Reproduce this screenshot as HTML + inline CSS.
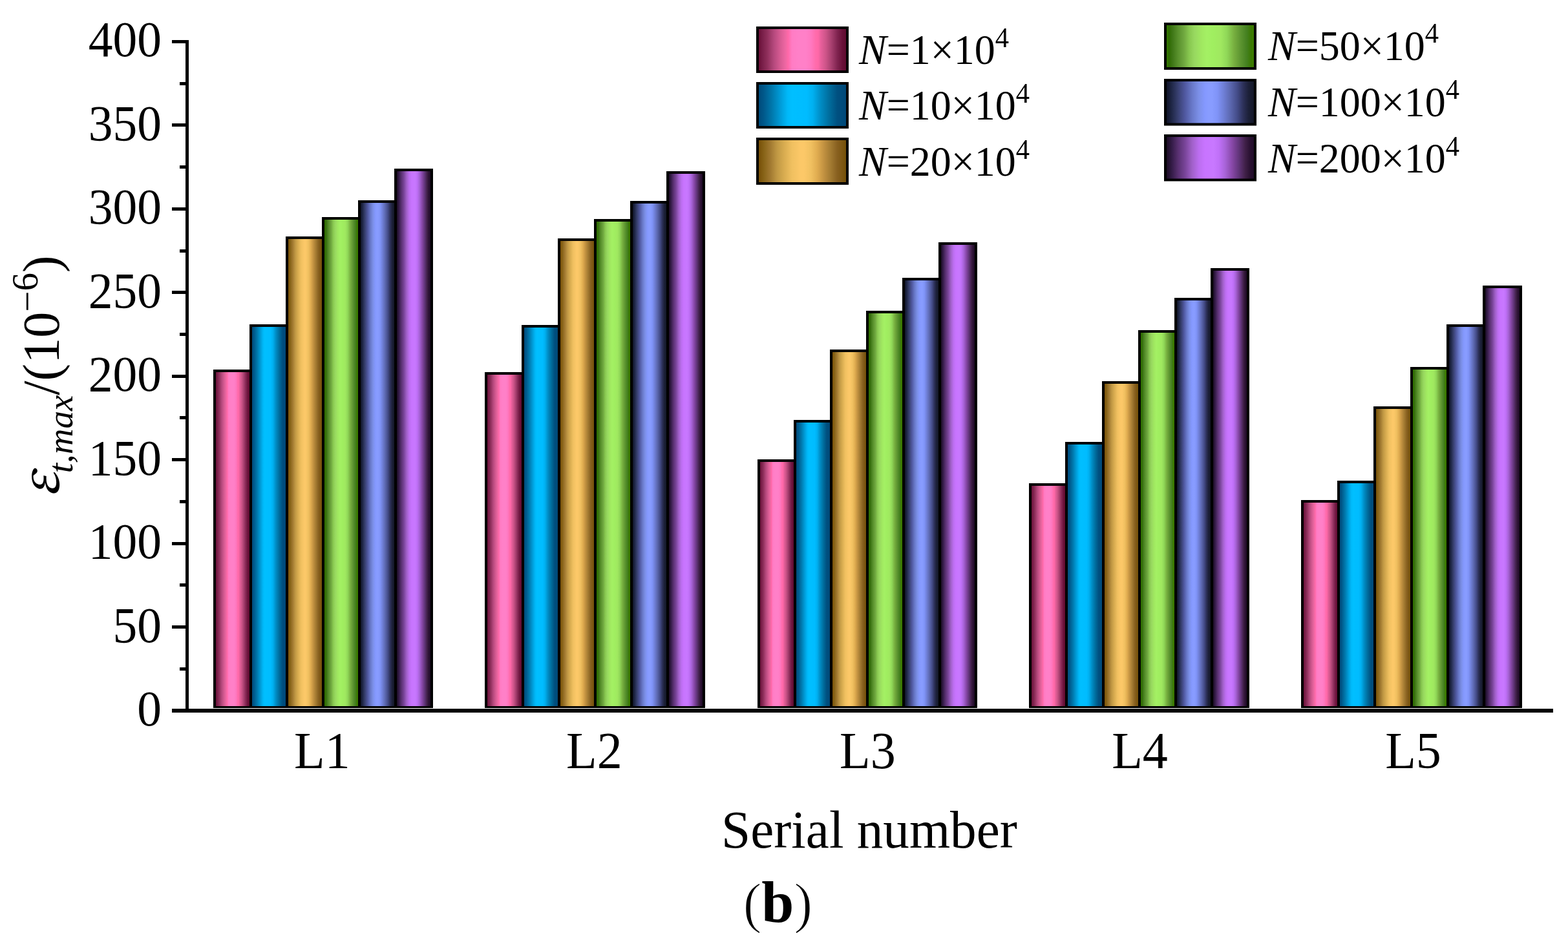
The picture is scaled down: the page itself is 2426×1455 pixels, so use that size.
<!DOCTYPE html><html><head><meta charset="utf-8"><style>html,body{margin:0;padding:0;background:#fff;}svg{display:block;}text{font-family:"Liberation Serif","Times New Roman",serif;fill:#000;}</style></head><body>
<svg width="2426" height="1455" viewBox="0 0 2426 1455">
<defs>
<linearGradient id="pk" x1="0" y1="0" x2="1" y2="0"><stop offset="0" stop-color="#6c1038"/><stop offset="0.04" stop-color="#781e48"/><stop offset="0.1" stop-color="#90305c"/><stop offset="0.17" stop-color="#b4487c"/><stop offset="0.25" stop-color="#d85c94"/><stop offset="0.31" stop-color="#f068a4"/><stop offset="0.335" stop-color="#ff68a8"/><stop offset="0.38" stop-color="#ff7cc4"/><stop offset="0.45" stop-color="#ff80c8"/><stop offset="0.54" stop-color="#ff80c8"/><stop offset="0.6" stop-color="#ff78c0"/><stop offset="0.65" stop-color="#ff6cac"/><stop offset="0.68" stop-color="#ff68a8"/><stop offset="0.71" stop-color="#e8609c"/><stop offset="0.77" stop-color="#cc5488"/><stop offset="0.83" stop-color="#a84070"/><stop offset="0.9" stop-color="#802450"/><stop offset="0.96" stop-color="#681038"/><stop offset="1" stop-color="#600c30"/></linearGradient>
<linearGradient id="bl" x1="0" y1="0" x2="1" y2="0"><stop offset="0" stop-color="#004c7c"/><stop offset="0.05" stop-color="#005688"/><stop offset="0.15" stop-color="#0078ac"/><stop offset="0.25" stop-color="#009cd8"/><stop offset="0.33" stop-color="#00b8f8"/><stop offset="0.38" stop-color="#00bfff"/><stop offset="0.55" stop-color="#00bcff"/><stop offset="0.62" stop-color="#00b0f0"/><stop offset="0.71" stop-color="#008cc4"/><stop offset="0.81" stop-color="#006c9c"/><stop offset="0.9" stop-color="#005080"/><stop offset="1" stop-color="#004878"/></linearGradient>
<linearGradient id="gd" x1="0" y1="0" x2="1" y2="0"><stop offset="0" stop-color="#785008"/><stop offset="0.06" stop-color="#886418"/><stop offset="0.13" stop-color="#a07830"/><stop offset="0.21" stop-color="#c09844"/><stop offset="0.29" stop-color="#d8ac50"/><stop offset="0.38" stop-color="#f0c060"/><stop offset="0.48" stop-color="#fcc868"/><stop offset="0.52" stop-color="#fcc868"/><stop offset="0.6" stop-color="#f0c060"/><stop offset="0.67" stop-color="#e0ac50"/><stop offset="0.75" stop-color="#c09040"/><stop offset="0.83" stop-color="#a07830"/><stop offset="0.9" stop-color="#886020"/><stop offset="1" stop-color="#745008"/></linearGradient>
<linearGradient id="gr" x1="0" y1="0" x2="1" y2="0"><stop offset="0" stop-color="#347800"/><stop offset="0.03" stop-color="#306c04"/><stop offset="0.07" stop-color="#407818"/><stop offset="0.13" stop-color="#58902c"/><stop offset="0.2" stop-color="#70a840"/><stop offset="0.26" stop-color="#88c850"/><stop offset="0.32" stop-color="#98d860"/><stop offset="0.4" stop-color="#a0e860"/><stop offset="0.46" stop-color="#a4f064"/><stop offset="0.54" stop-color="#a0ee60"/><stop offset="0.62" stop-color="#a0e860"/><stop offset="0.69" stop-color="#90d858"/><stop offset="0.77" stop-color="#78b040"/><stop offset="0.85" stop-color="#5c9430"/><stop offset="0.92" stop-color="#448020"/><stop offset="0.97" stop-color="#3a7800"/><stop offset="1" stop-color="#3c7c00"/></linearGradient>
<linearGradient id="pe" x1="0" y1="0" x2="1" y2="0"><stop offset="0" stop-color="#101428"/><stop offset="0.06" stop-color="#202848"/><stop offset="0.13" stop-color="#384070"/><stop offset="0.21" stop-color="#5058a0"/><stop offset="0.29" stop-color="#6878c8"/><stop offset="0.37" stop-color="#7c90e8"/><stop offset="0.44" stop-color="#8498ff"/><stop offset="0.48" stop-color="#889cff"/><stop offset="0.52" stop-color="#889cff"/><stop offset="0.58" stop-color="#8094f8"/><stop offset="0.65" stop-color="#7080d8"/><stop offset="0.73" stop-color="#5c68b0"/><stop offset="0.81" stop-color="#444c88"/><stop offset="0.88" stop-color="#2c3058"/><stop offset="0.94" stop-color="#1c2038"/><stop offset="1" stop-color="#141828"/></linearGradient>
<linearGradient id="pu" x1="0" y1="0" x2="1" y2="0"><stop offset="0" stop-color="#1c0c24"/><stop offset="0.06" stop-color="#341c48"/><stop offset="0.13" stop-color="#583070"/><stop offset="0.21" stop-color="#784498"/><stop offset="0.29" stop-color="#a060c8"/><stop offset="0.37" stop-color="#bc6ef0"/><stop offset="0.44" stop-color="#c874ff"/><stop offset="0.54" stop-color="#c878ff"/><stop offset="0.6" stop-color="#c070f8"/><stop offset="0.67" stop-color="#a864d8"/><stop offset="0.75" stop-color="#8848a8"/><stop offset="0.83" stop-color="#603478"/><stop offset="0.9" stop-color="#402048"/><stop offset="0.96" stop-color="#281030"/><stop offset="1" stop-color="#200c28"/></linearGradient>
</defs>
<rect x="0" y="0" width="2426" height="1455" fill="#fff"/>
<rect x="330" y="572" width="60" height="524" fill="#000"/>
<rect x="334" y="576" width="52" height="517" fill="url(#pk)"/>
<rect x="386" y="502" width="60" height="594" fill="#000"/>
<rect x="390" y="506" width="52" height="587" fill="url(#bl)"/>
<rect x="442" y="366" width="60" height="730" fill="#000"/>
<rect x="446" y="370" width="52" height="723" fill="url(#gd)"/>
<rect x="498" y="336" width="60" height="760" fill="#000"/>
<rect x="502" y="340" width="52" height="753" fill="url(#gr)"/>
<rect x="554" y="310" width="60" height="786" fill="#000"/>
<rect x="558" y="314" width="52" height="779" fill="url(#pe)"/>
<rect x="610" y="261" width="60" height="835" fill="#000"/>
<rect x="614" y="265" width="52" height="828" fill="url(#pu)"/>
<rect x="750" y="576" width="61" height="520" fill="#000"/>
<rect x="754" y="580" width="53" height="513" fill="url(#pk)"/>
<rect x="807" y="503" width="60" height="593" fill="#000"/>
<rect x="811" y="507" width="52" height="586" fill="url(#bl)"/>
<rect x="863" y="369" width="60" height="727" fill="#000"/>
<rect x="867" y="373" width="52" height="720" fill="url(#gd)"/>
<rect x="919" y="339" width="60" height="757" fill="#000"/>
<rect x="923" y="343" width="52" height="750" fill="url(#gr)"/>
<rect x="975" y="311" width="60" height="785" fill="#000"/>
<rect x="979" y="315" width="52" height="778" fill="url(#pe)"/>
<rect x="1031" y="265" width="60" height="831" fill="#000"/>
<rect x="1035" y="269" width="52" height="824" fill="url(#pu)"/>
<rect x="1172" y="711" width="60" height="385" fill="#000"/>
<rect x="1176" y="715" width="52" height="378" fill="url(#pk)"/>
<rect x="1228" y="650" width="60" height="446" fill="#000"/>
<rect x="1232" y="654" width="52" height="439" fill="url(#bl)"/>
<rect x="1284" y="541" width="60" height="555" fill="#000"/>
<rect x="1288" y="545" width="52" height="548" fill="url(#gd)"/>
<rect x="1340" y="481" width="60" height="615" fill="#000"/>
<rect x="1344" y="485" width="52" height="608" fill="url(#gr)"/>
<rect x="1396" y="430" width="60" height="666" fill="#000"/>
<rect x="1400" y="434" width="52" height="659" fill="url(#pe)"/>
<rect x="1452" y="375" width="60" height="721" fill="#000"/>
<rect x="1456" y="379" width="52" height="714" fill="url(#pu)"/>
<rect x="1592" y="748" width="60" height="348" fill="#000"/>
<rect x="1596" y="752" width="52" height="341" fill="url(#pk)"/>
<rect x="1648" y="684" width="61" height="412" fill="#000"/>
<rect x="1652" y="688" width="53" height="405" fill="url(#bl)"/>
<rect x="1705" y="590" width="60" height="506" fill="#000"/>
<rect x="1709" y="594" width="52" height="499" fill="url(#gd)"/>
<rect x="1761" y="511" width="60" height="585" fill="#000"/>
<rect x="1765" y="515" width="52" height="578" fill="url(#gr)"/>
<rect x="1817" y="461" width="60" height="635" fill="#000"/>
<rect x="1821" y="465" width="52" height="628" fill="url(#pe)"/>
<rect x="1873" y="415" width="60" height="681" fill="#000"/>
<rect x="1877" y="419" width="52" height="674" fill="url(#pu)"/>
<rect x="2013" y="774" width="61" height="322" fill="#000"/>
<rect x="2017" y="778" width="53" height="315" fill="url(#pk)"/>
<rect x="2069" y="744" width="61" height="352" fill="#000"/>
<rect x="2073" y="748" width="53" height="345" fill="url(#bl)"/>
<rect x="2125" y="629" width="61" height="467" fill="#000"/>
<rect x="2129" y="633" width="53" height="460" fill="url(#gd)"/>
<rect x="2182" y="568" width="60" height="528" fill="#000"/>
<rect x="2186" y="572" width="52" height="521" fill="url(#gr)"/>
<rect x="2238" y="502" width="60" height="594" fill="#000"/>
<rect x="2242" y="506" width="52" height="587" fill="url(#pe)"/>
<rect x="2294" y="442" width="61" height="654" fill="#000"/>
<rect x="2298" y="446" width="53" height="647" fill="url(#pu)"/>
<rect x="287" y="62" width="5" height="1041" fill="#000"/>
<rect x="266" y="1097" width="2137" height="6" fill="#000"/>
<rect x="266" y="1098" width="21" height="5" fill="#000"/>
<text transform="translate(250,1123.00) scale(1,1.045)" font-size="75.5" text-anchor="end">0</text>
<rect x="266" y="968" width="21" height="5" fill="#000"/>
<text transform="translate(250,993.56) scale(1,1.045)" font-size="75.5" text-anchor="end">50</text>
<rect x="266" y="839" width="21" height="5" fill="#000"/>
<text transform="translate(250,864.12) scale(1,1.045)" font-size="75.5" text-anchor="end">100</text>
<rect x="266" y="709" width="21" height="5" fill="#000"/>
<text transform="translate(250,734.68) scale(1,1.045)" font-size="75.5" text-anchor="end">150</text>
<rect x="266" y="580" width="21" height="5" fill="#000"/>
<text transform="translate(250,605.24) scale(1,1.045)" font-size="75.5" text-anchor="end">200</text>
<rect x="266" y="450" width="21" height="5" fill="#000"/>
<text transform="translate(250,475.80) scale(1,1.045)" font-size="75.5" text-anchor="end">250</text>
<rect x="266" y="321" width="21" height="5" fill="#000"/>
<text transform="translate(250,346.36) scale(1,1.045)" font-size="75.5" text-anchor="end">300</text>
<rect x="266" y="191" width="21" height="5" fill="#000"/>
<text transform="translate(250,216.92) scale(1,1.045)" font-size="75.5" text-anchor="end">350</text>
<rect x="266" y="62" width="21" height="5" fill="#000"/>
<text transform="translate(250,87.48) scale(1,1.045)" font-size="75.5" text-anchor="end">400</text>
<rect x="278" y="1033" width="9" height="5" fill="#000"/>
<rect x="278" y="903" width="9" height="5" fill="#000"/>
<rect x="278" y="774" width="9" height="5" fill="#000"/>
<rect x="278" y="644" width="9" height="5" fill="#000"/>
<rect x="278" y="515" width="9" height="5" fill="#000"/>
<rect x="278" y="386" width="9" height="5" fill="#000"/>
<rect x="278" y="256" width="9" height="5" fill="#000"/>
<rect x="278" y="127" width="9" height="5" fill="#000"/>
<text transform="translate(498.4,1189) scale(1,1.03)" font-size="78" text-anchor="middle">L1</text>
<text transform="translate(919.4,1189) scale(1,1.03)" font-size="78" text-anchor="middle">L2</text>
<text transform="translate(1342.4,1189) scale(1,1.03)" font-size="78" text-anchor="middle">L3</text>
<text transform="translate(1763.5,1189) scale(1,1.03)" font-size="78" text-anchor="middle">L4</text>
<text transform="translate(2186.5,1189) scale(1,1.03)" font-size="78" text-anchor="middle">L5</text>
<text transform="translate(1344.9,1311.5) scale(1,1.02)" font-size="81.2" text-anchor="middle">Serial number</text>
<text x="1149.7" y="1426.5" font-size="86"><tspan stroke="#fff" stroke-width="1.4">(</tspan><tspan font-weight="bold" font-size="90">b</tspan><tspan stroke="#fff" stroke-width="1.4">)</tspan></text>
<text transform="translate(90.5,769.5) rotate(-90)" font-size="80"><tspan font-style="italic" font-family="Noto Serif CJK SC" font-weight="500" font-size="78">ε</tspan><tspan font-style="italic" font-size="55" dy="21" dx="-2.5">t,max</tspan><tspan dy="-21">/(10</tspan><tspan font-size="57" dy="-30">−</tspan><tspan font-size="57" dy="-3">6</tspan><tspan dy="33">)</tspan></text>
<rect x="1170" y="41" width="143.0" height="72.0" fill="#000"/>
<rect x="1174" y="45" width="135.0" height="64.0" fill="url(#pk)"/>
<text transform="translate(1329,99.2) scale(1,1.035)" font-size="64"><tspan font-style="italic">N</tspan>=1×10<tspan font-size="42.5" dy="-25.3">4</tspan></text>
<rect x="1170" y="127" width="143.0" height="72.0" fill="#000"/>
<rect x="1174" y="131" width="135.0" height="64.0" fill="url(#bl)"/>
<text transform="translate(1329,185.1) scale(1,1.035)" font-size="64"><tspan font-style="italic">N</tspan>=10×10<tspan font-size="42.5" dy="-25.3">4</tspan></text>
<rect x="1170" y="213" width="143.0" height="73.0" fill="#000"/>
<rect x="1174" y="217" width="135.0" height="65.0" fill="url(#gd)"/>
<text transform="translate(1329,271.7) scale(1,1.035)" font-size="64"><tspan font-style="italic">N</tspan>=20×10<tspan font-size="42.5" dy="-25.3">4</tspan></text>
<rect x="1801" y="35" width="143.0" height="73.0" fill="#000"/>
<rect x="1805" y="39" width="135.0" height="65.0" fill="url(#gr)"/>
<text transform="translate(1962,92.6) scale(1,1.035)" font-size="64"><tspan font-style="italic">N</tspan>=50×10<tspan font-size="42.5" dy="-25.3">4</tspan></text>
<rect x="1801" y="122" width="143.0" height="72.5" fill="#000"/>
<rect x="1805" y="126" width="135.0" height="64.5" fill="url(#pe)"/>
<text transform="translate(1962,179.6) scale(1,1.035)" font-size="64"><tspan font-style="italic">N</tspan>=100×10<tspan font-size="42.5" dy="-25.3">4</tspan></text>
<rect x="1801" y="208" width="143.0" height="72.5" fill="#000"/>
<rect x="1805" y="212" width="135.0" height="64.5" fill="url(#pu)"/>
<text transform="translate(1962,266.8) scale(1,1.035)" font-size="64"><tspan font-style="italic">N</tspan>=200×10<tspan font-size="42.5" dy="-25.3">4</tspan></text>
</svg></body></html>
